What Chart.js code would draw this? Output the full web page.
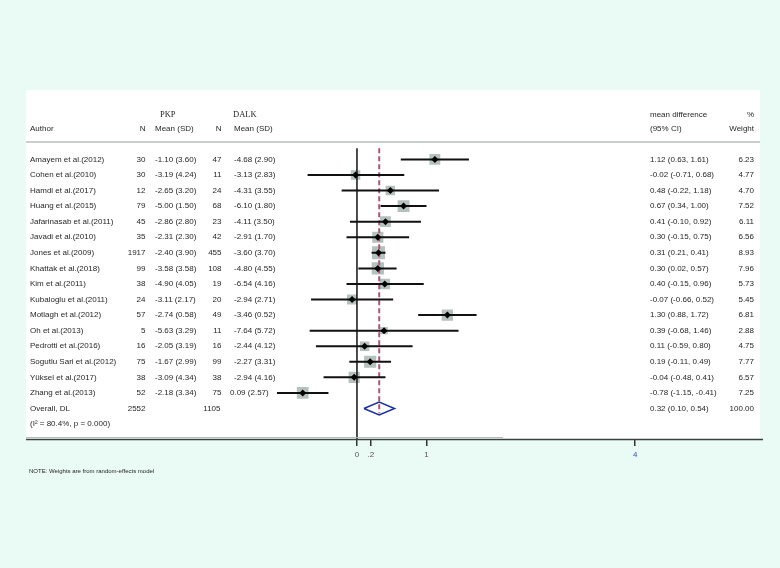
<!DOCTYPE html>
<html>
<head>
<meta charset="utf-8">
<script src="https://cdn.jsdelivr.net/npm/chart.js@4"></script>
<style>
  body { margin: 0; background: #eafaf4; }
  canvas { display: block; }
</style>
</head>
<body>
<canvas id="chart" width="780" height="568"></canvas>
<script>
const authors = [
  "Amayem et al.(2012)", "Cohen et al.(2010)", "Hamdi et al.(2017)", "Huang et al.(2015)",
  "Jafarinasab et al.(2011)", "Javadi et al.(2010)", "Jones et al.(2009)", "Khattak et al.(2018)",
  "Kim et al.(2011)", "Kubaloglu et al.(2011)", "Motlagh et al.(2012)", "Oh et al.(2013)",
  "Pedrotti et al.(2016)", "Sogutlu Sari et al.(2012)", "Yüksel et al.(2017)", "Zhang et al.(2013)"
];
const nPKP = [30, 30, 12, 79, 45, 35, 1917, 99, 38, 24, 57, 5, 16, 75, 38, 52];
const meanPKP = [-1.10, -3.19, -2.65, -5.00, -2.86, -2.31, -2.40, -3.58, -4.90, -3.11, -2.74, -5.63, -2.05, -1.67, -3.09, -2.18];
const sdPKP = [3.60, 4.24, 3.20, 1.50, 2.80, 2.30, 3.90, 3.58, 4.05, 2.17, 0.58, 3.29, 3.19, 2.99, 4.34, 3.34];
const nDALK = [47, 11, 24, 68, 23, 42, 455, 108, 19, 20, 49, 11, 16, 99, 38, 75];
const meanDALK = [-4.68, -3.13, -4.31, -6.10, -4.11, -2.91, -3.60, -4.80, -6.54, -2.94, -3.46, -7.64, -2.44, -2.27, -2.94, 0.09];
const sdDALK = [2.90, 2.83, 3.55, 1.80, 3.50, 1.70, 3.70, 4.55, 4.16, 2.71, 0.52, 5.72, 4.12, 3.31, 4.16, 2.57];
const meanDiff = [1.12, -0.02, 0.48, 0.67, 0.41, 0.30, 0.31, 0.30, 0.40, -0.07, 1.30, 0.39, 0.11, 0.19, -0.04, -0.78];
const ciLow = [0.63, -0.71, -0.22, 0.34, -0.10, -0.15, 0.21, 0.02, -0.15, -0.66, 0.88, -0.68, -0.59, -0.11, -0.48, -1.15];
const ciHigh = [1.61, 0.68, 1.18, 1.00, 0.92, 0.75, 0.41, 0.57, 0.96, 0.52, 1.72, 1.46, 0.80, 0.49, 0.41, -0.41];
const weights = [6.23, 4.77, 4.70, 7.52, 6.11, 6.56, 8.93, 7.96, 5.73, 5.45, 6.81, 2.88, 4.75, 7.77, 6.57, 7.25];

const overallLabel = "Overall, DL";
const overallNPKP = 2552;
const overallNDALK = 1105;
const overallMD = 0.32;
const overallLow = 0.10;
const overallHigh = 0.54;
const overallWeight = 100.00;
const heterogeneity = "(I\u00b2 = 80.4%, p = 0.000)";

const tickValues = [0, 0.2, 1, 4];
const tickLabels = ["0", ".2", "1", "4"];

const overallRow = authors.length;
const sans = "'Liberation Sans', Arial, sans-serif";
const serif = "'Liberation Serif', 'Times New Roman', serif";

function fmt(v) { return v.toFixed(2); }

const ciDatasets = authors.map((a, i) => ({
  type: "line",
  data: [{ x: ciLow[i], y: i }, { x: ciHigh[i], y: i }],
  borderColor: "#111",
  borderWidth: 2,
  pointRadius: 0,
  order: 2,
}));

const panelPlugin = {
  id: "panel",
  beforeDraw(chart) {
    const ctx = chart.ctx;
    ctx.save();
    ctx.fillStyle = "#eafaf4";
    ctx.fillRect(0, 0, chart.width, chart.height);
    ctx.fillStyle = "#ffffff";
    ctx.fillRect(26, 90, 734, 349);
    // header separator
    ctx.strokeStyle = "#c9cece";
    ctx.lineWidth = 2;
    ctx.beginPath();
    ctx.moveTo(26, 142);
    ctx.lineTo(760, 142);
    ctx.stroke();
    ctx.restore();
  },
  afterDraw(chart) {
    const ctx = chart.ctx;
    const y = chart.scales.y;
    ctx.save();
    // bottom border of the panel
    ctx.strokeStyle = "#b4bcbc";
    ctx.lineWidth = 1;
    ctx.beginPath();
    ctx.moveTo(26, 437.5);
    ctx.lineTo(503, 437.5);
    ctx.stroke();
    ctx.strokeStyle = "#384040";
    ctx.lineWidth = 1.5;
    ctx.beginPath();
    ctx.moveTo(26, 439.5);
    ctx.lineTo(763, 439.5);
    ctx.stroke();

    ctx.fillStyle = "#262626";
    ctx.textBaseline = "middle";

    // headers
    const h1 = y.getPixelForValue(-2.87);
    const h2 = y.getPixelForValue(-1.98);
    ctx.font = "8.5px " + serif;
    ctx.textAlign = "left";
    ctx.fillText("PKP", 160, h1);
    ctx.fillText("DALK", 233, h1);
    ctx.font = "8px " + sans;
    ctx.fillText("Author", 30, h2);
    ctx.fillText("Mean (SD)", 155, h2);
    ctx.fillText("Mean (SD)", 234, h2);
    ctx.fillText("mean difference", 650, h1);
    ctx.fillText("(95% CI)", 650, h2);
    ctx.textAlign = "right";
    ctx.fillText("N", 145.5, h2);
    ctx.fillText("N", 221.5, h2);
    ctx.fillText("%", 754, h1);
    ctx.fillText("Weight", 754, h2);

    // study rows
    authors.forEach((a, i) => {
      const py = y.getPixelForValue(i);
      ctx.textAlign = "left";
      ctx.fillText(a, 30, py);
      ctx.fillText(fmt(meanPKP[i]) + " (" + fmt(sdPKP[i]) + ")", 155, py);
      ctx.fillText(fmt(meanDALK[i]) + " (" + fmt(sdDALK[i]) + ")", meanDALK[i] < 0 ? 234 : 230, py);
      ctx.fillText(fmt(meanDiff[i]) + " (" + fmt(ciLow[i]) + ", " + fmt(ciHigh[i]) + ")", 650, py);
      ctx.textAlign = "right";
      ctx.fillText(String(nPKP[i]), 145.5, py);
      ctx.fillText(String(nDALK[i]), 221.5, py);
      ctx.fillText(fmt(weights[i]), 754, py);
    });

    // overall rows
    const oy = y.getPixelForValue(overallRow);
    ctx.textAlign = "left";
    ctx.fillText(overallLabel, 30, oy);
    ctx.fillText(fmt(overallMD) + " (" + fmt(overallLow) + ", " + fmt(overallHigh) + ")", 650, oy);
    ctx.textAlign = "right";
    ctx.fillText(String(overallNPKP), 145.5, oy);
    ctx.fillText(String(overallNDALK), 220.5, oy);
    ctx.fillText(fmt(overallWeight), 754, oy);
    ctx.textAlign = "left";
    ctx.fillText(heterogeneity, 30, y.getPixelForValue(overallRow + 1));

    // footnote
    ctx.font = "6px 'Liberation Sans Narrow', " + sans;
    ctx.fillText("NOTE: Weights are from random-effects model", 29, 471);
    ctx.restore();
  },
};

new Chart(document.getElementById("chart"), {
  type: "scatter",
  data: {
    datasets: [
      {
        label: "weights",
        data: meanDiff.map((v, i) => ({ x: v, y: i })),
        pointStyle: "rect",
        pointRadius: weights.map((w) => (4.35 * Math.sqrt(w)) / Math.SQRT2),
        backgroundColor: "#b4c1bd",
        borderWidth: 0,
        order: 5,
      },
      {
        type: "line",
        label: "zero",
        data: [{ x: 0, y: -0.72 }, { x: 0, y: 17.96 }],
        borderColor: "#111",
        borderWidth: 1.5,
        pointRadius: 0,
        order: 4,
      },
      {
        type: "line",
        label: "overall line",
        data: [{ x: overallMD, y: -0.72 }, { x: overallMD, y: overallRow + 0.3 }],
        borderColor: "#a8557a",
        borderWidth: 2,
        borderDash: [5, 3],
        pointRadius: 0,
        order: 3,
      },
      ...ciDatasets,
      {
        label: "estimates",
        data: meanDiff.map((v, i) => ({ x: v, y: i })),
        pointStyle: "rectRot",
        pointRadius: 3.5,
        backgroundColor: "#000",
        borderWidth: 0,
        order: 1,
      },
      {
        type: "line",
        label: "overall",
        data: [
          { x: overallLow, y: overallRow },
          { x: overallMD, y: overallRow - 0.41 },
          { x: overallHigh, y: overallRow },
          { x: overallMD, y: overallRow + 0.41 },
          { x: overallLow, y: overallRow },
        ],
        borderColor: "#1c2ea0",
        borderWidth: 1.5,
        pointRadius: 0,
        fill: false,
        order: 0,
      },
    ],
  },
  options: {
    responsive: false,
    animation: false,
    events: [],
    layout: { padding: 0 },
    plugins: { legend: { display: false }, tooltip: { enabled: false } },
    scales: {
      x: {
        type: "linear",
        position: "bottom",
        min: -5,
        max: 5.95,
        afterBuildTicks: (axis) => {
          axis.ticks = tickValues.map((v) => ({ value: v }));
        },
        afterFit: (scale) => {
          scale.height = 568 - 439;
        },
        ticks: {
          autoSkip: false,
          maxRotation: 0,
          padding: 4,
          font: { family: sans, size: 8 },
          color: (c) => (c.tick && c.tick.value === 4 ? "#3556b4" : "#555"),
          callback: (v) => tickLabels[tickValues.indexOf(v)],
        },
        grid: {
          display: true,
          drawOnChartArea: false,
          drawTicks: true,
          tickLength: 7,
          color: "#333",
          lineWidth: 1.5,
        },
        border: { display: false },
      },
      y: {
        type: "linear",
        display: false,
        reverse: true,
        min: -9.65,
        max: 17.96,
      },
    },
  },
  plugins: [panelPlugin],
});
</script>
</body>
</html>
